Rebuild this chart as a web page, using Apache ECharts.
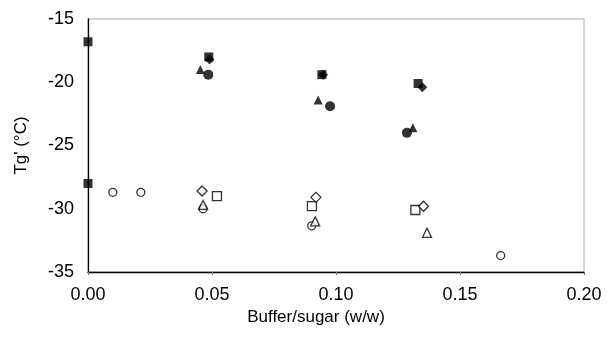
<!DOCTYPE html>
<html lang="en">
<head>
  <meta charset="UTF-8">
  <title>Tg' vs buffer/sugar</title>
  <script src="https://cdn.jsdelivr.net/npm/echarts@6/dist/echarts.min.js"></script>
</head>
<body style="margin:0">
<div id="chart" style="width: 607px;height: 350px;"></div>
<script>
  // points as [buffer/sugar, Tg']
  let sugarOnly = [[0, -16.8], [0, -28.0]]
  let fillSquare = [[0.0487, -18.0], [0.0943, -19.4], [0.1331, -20.1]]
  let fillDiamond = [[0.049, -18.2], [0.0948, -19.4], [0.1348, -20.4]]
  let fillTriangle = [[0.0453, -19.0], [0.0928, -21.4], [0.131, -23.6]]
  let fillCircle = [[0.0485, -19.4], [0.0976, -21.9], [0.1286, -24.0]]
  let openSquare = [[0.052, -29.0], [0.0903, -29.8], [0.132, -30.1]]
  let openDiamond = [[0.046, -28.6], [0.0919, -29.1], [0.1353, -29.8]]
  let openTriangle = [[0.0464, -29.7], [0.0916, -31.0], [0.1367, -31.9]]
  let openCircle = [[0.01, -28.7], [0.0213, -28.7], [0.0464, -30.0], [0.0902, -31.35], [0.1664, -33.7]]

  let myChart = echarts.init(document.getElementById('chart'))

  // helper: one scatter series
  function pts(data, symbol, size, filled) {
    return {
      type: 'scatter',
      data: data,
      symbol: symbol,
      symbolSize: size,
      itemStyle: filled
        ? {color: '#000'}
        : {color: '#fff', borderColor: '#000', borderWidth: 1.3},
      z: filled ? 3 : 2
    }
  }

  let font = 'Liberation Sans, Arial, sans-serif'

  let option = {
    animation: false,
    backgroundColor: '#fff',
    grid: {
      left: 88, right: 23, top: 19, bottom: 78,
      show: true, borderColor: '#aaa', borderWidth: 1
    },
    xAxis: {
      type: 'value',
      min: 0, max: 0.2, interval: 0.05,
      name: 'Buffer/sugar (w/w)',
      nameLocation: 'middle',
      nameGap: 36,
      nameTextStyle: {color: '#000', fontSize: 17, fontFamily: font, padding: [0, 40, 0, 0]},
      axisLine: {lineStyle: {color: '#000', width: 1.3}},
      axisTick: {show: true, length: 3, lineStyle: {color: '#777'}},
      axisLabel: {
        color: '#000', fontSize: 18, fontFamily: font, margin: 14,
        formatter: v => v.toFixed(2)
      },
      splitLine: {show: false}
    },
    yAxis: {
      type: 'value',
      min: -35, max: -15, interval: 5,
      name: "Tg' (°C)",
      nameLocation: 'middle',
      nameGap: 58,
      nameTextStyle: {color: '#000', fontSize: 17, fontFamily: font},
      axisLine: {show: true, lineStyle: {color: '#000', width: 1.3}},
      axisTick: {show: false},
      axisLabel: {color: '#000', fontSize: 18, fontFamily: font, margin: 14},
      splitLine: {show: false}
    },
    series: [
      pts(openCircle, 'circle', 8, false),
      pts(openSquare, 'rect', 9, false),
      pts(openDiamond, 'diamond', 10, false),
      pts(openTriangle, 'triangle', 9, false),
      pts(fillCircle, 'circle', 10, true),
      pts(fillSquare, 'rect', 9, true),
      pts(fillDiamond, 'diamond', 10, true),
      pts(fillTriangle, 'triangle', 9, true),
      pts(sugarOnly, 'rect', 9, true)
    ]
  }
  myChart.setOption(option)
</script>
</body>
</html>
